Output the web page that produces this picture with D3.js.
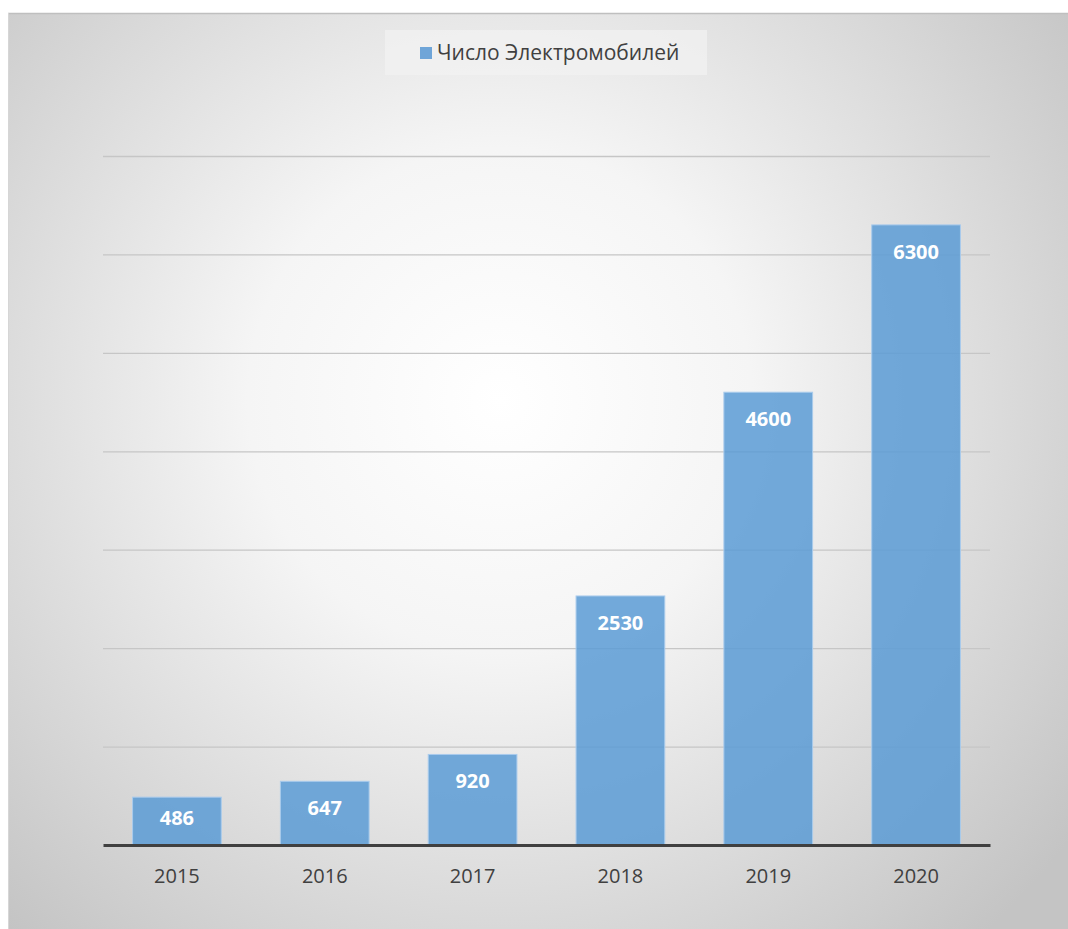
<html>
<head>
  <meta charset="utf-8">
  <script src="https://d3js.org/d3.v7.min.js"></script>
  <style>
    body { margin: 0; background: #ffffff; }
    text { font-family: "Open Sans", "Noto Sans", sans-serif; }
  </style>
</head>
<body>
  <div id="chart"></div>
  <script>
    // Data
    var years = ['2015', '2016', '2017', '2018', '2019', '2020'];
    var cars = [486, 647, 920, 2530, 4600, 6300];
    var gridTicks = [0, 1000, 2000, 3000, 4000, 5000, 6000, 7000];
    var seriesName = 'Число Электромобилей';

    var W = 1068, H = 929;
    var margin = {top: 156, right: 78, bottom: 84, left: 103},
        width = W - margin.left - margin.right,
        height = H - margin.top - margin.bottom;

    var svg = d3.select('#chart')
      .append('svg')
        .attr('width', W)
        .attr('height', H);

    // radial background like the original
    var defs = svg.append('defs');
    var grad = defs.append('radialGradient')
        .attr('id', 'bg')
        .attr('gradientUnits', 'userSpaceOnUse')
        .attr('cx', 500).attr('cy', 400).attr('r', 720);
    grad.append('stop').attr('offset', '0%').attr('stop-color', '#ffffff');
    grad.append('stop').attr('offset', '35%').attr('stop-color', '#f5f5f5');
    grad.append('stop').attr('offset', '100%').attr('stop-color', '#c4c4c4');

    svg.append('rect')
        .attr('x', 8).attr('y', 13)
        .attr('width', W - 8).attr('height', H - 13)
        .attr('fill', 'url(#bg)');
    svg.append('line')
        .attr('x1', 8).attr('x2', W).attr('y1', 13.5).attr('y2', 13.5)
        .attr('stroke', '#bfbfbf').attr('stroke-width', 1.5);
    svg.append('line')
        .attr('x1', 8.5).attr('x2', 8.5).attr('y1', 13).attr('y2', H)
        .attr('stroke', '#d6d6d6').attr('stroke-width', 1);

    var g = svg.append('g')
        .attr('transform', 'translate(' + margin.left + ',' + margin.top + ')');

    var x = d3.scaleBand()
        .domain(years)
        .range([0, width])
        .paddingInner(0.4)
        .paddingOuter(0.2);
    var y = d3.scaleLinear()
        .domain([0, 7000])
        .range([height, 0]);

    // gridlines
    g.append('g')
        .attr('class', 'grid')
        .call(d3.axisLeft(y).tickValues(gridTicks.slice(1)).tickSize(-width).tickFormat(''))
        .call(function(s) {
          s.select('.domain').remove();
          s.selectAll('line').attr('stroke', '#c6c6c6').attr('stroke-width', 1.3);
        });

    // bars
    g.selectAll('.bar')
      .data(cars)
      .enter().append('rect')
        .attr('class', 'bar')
        .attr('x', function(d, i) { return x(years[i]); })
        .attr('y', function(d) { return y(d); })
        .attr('width', x.bandwidth())
        .attr('height', function(d) { return height - y(d); })
        .attr('fill', '#5b9bd5')
        .attr('fill-opacity', 0.85)
        .attr('stroke', '#a9cbec')
        .attr('stroke-width', 1);

    // value labels
    g.selectAll('.val')
      .data(cars)
      .enter().append('text')
        .attr('class', 'val')
        .attr('x', function(d, i) { return x(years[i]) + x.bandwidth() / 2; })
        .attr('y', function(d) { return Math.min(y(d) + 27, height - 27); })
        .attr('dy', '0.35em')
        .attr('text-anchor', 'middle')
        .attr('fill', '#ffffff')
        .style('font-size', '20px')
        .style('font-weight', 'bold')
        .text(function(d) { return d; });

    // x axis
    var xAxis = g.append('g')
        .attr('transform', 'translate(0,' + height + ')')
        .call(d3.axisBottom(x).tickSize(0).tickPadding(24));
    xAxis.select('.domain')
        .attr('stroke', '#404040')
        .attr('stroke-width', 3);
    xAxis.selectAll('text')
        .attr('fill', '#404040')
        .style('font-size', '20px')
        .style('font-family', '"Open Sans", "Noto Sans", sans-serif');

    // legend
    var legend = svg.append('g');
    legend.append('rect')
        .attr('x', 385).attr('y', 30)
        .attr('width', 322).attr('height', 45)
        .attr('fill', '#f2f2f2').attr('fill-opacity', 0.7);
    legend.append('rect')
        .attr('x', 420).attr('y', 47)
        .attr('width', 12).attr('height', 12)
        .attr('fill', '#6fa5d8');
    legend.append('text')
        .attr('x', 437).attr('y', 53)
        .attr('dy', '0.35em')
        .attr('fill', '#404040')
        .style('font-size', '21px')
        .text(seriesName);
  </script>
</body>
</html>
